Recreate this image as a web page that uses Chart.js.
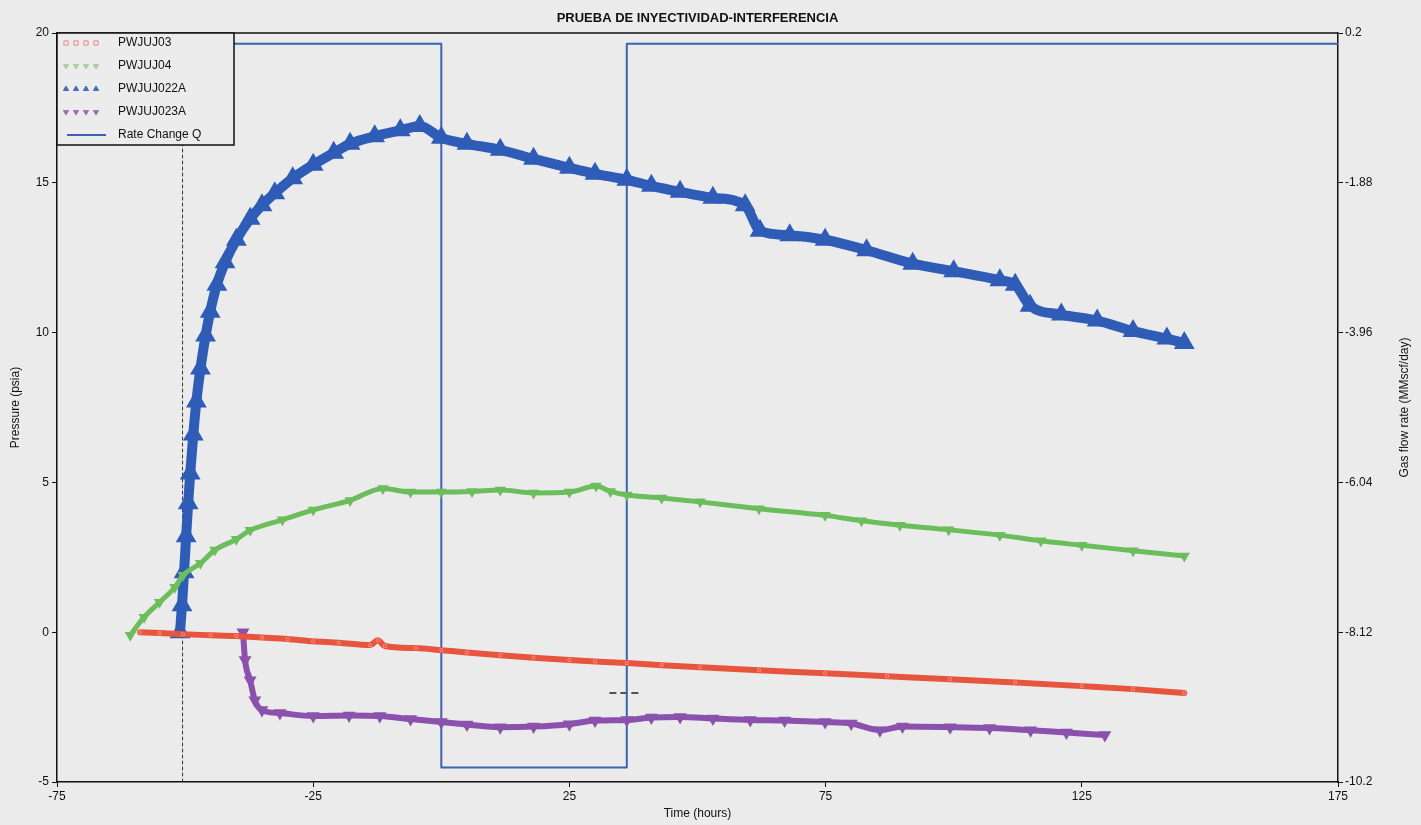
<!DOCTYPE html>
<html>
<head>
<meta charset="utf-8">
<script src="https://cdn.jsdelivr.net/npm/chart.js@4.4.1/dist/chart.umd.min.js"></script>
<style>
  html, body { margin: 0; padding: 0; background: #ebebeb; }
  #wrap { width: 1421px; height: 825px; position: relative; }
</style>
</head>
<body>
<div id="wrap"><canvas id="myChart" width="1421" height="825"></canvas></div>
<script>
// 시간 (hours) / 압력 (psia)
const TIME_03 = [-58.8, -55, -50.4, -45, -40, -35, -30, -25, -20, -13.9, -12.4, -11, -5, 0, 5, 11.5, 18, 25, 30, 36.2, 43, 50.5, 62, 74.9, 87, 99.3, 112, 125, 135, 145];
const PRES_03 = [0, -0.03, -0.07, -0.1, -0.13, -0.18, -0.23, -0.3, -0.35, -0.43, -0.27, -0.46, -0.53, -0.6, -0.68, -0.77, -0.85, -0.93, -0.98, -1.03, -1.1, -1.17, -1.27, -1.37, -1.47, -1.57, -1.68, -1.8, -1.9, -2.03];

const TIME_04 = [-60.7, -58, -55, -52, -50.4, -47, -44.2, -40, -37.3, -31, -25, -17.8, -11.4, -6, 0, 6, 11.5, 18, 25, 30.2, 33, 36.2, 43, 50.5, 62, 74.9, 82, 89.5, 99, 109, 117, 125, 135, 145];
const PRES_04 = [-0.1, 0.5, 1.0, 1.5, 1.9, 2.3, 2.74, 3.1, 3.4, 3.75, 4.08, 4.4, 4.8, 4.68, 4.68, 4.7, 4.75, 4.65, 4.68, 4.88, 4.7, 4.58, 4.48, 4.35, 4.12, 3.9, 3.72, 3.57, 3.42, 3.24, 3.05, 2.9, 2.72, 2.54];

const TIME_022A = [-51, -50.6, -50.2, -49.8, -49.4, -49, -48.4, -47.8, -47, -46, -45.1, -43.8, -42.2, -40, -37.3, -35, -32.5, -29, -25, -21, -17.8, -13, -8, -4.2, 0, 5, 11.5, 18, 25, 30, 36.2, 41, 46.6, 53, 59.3, 62.2, 68, 74.9, 83, 92, 100, 109, 112, 114.9, 121, 128, 135, 141.6, 145];
const PRES_022A = [0, 0.9, 2.0, 3.2, 4.3, 5.3, 6.6, 7.7, 8.8, 9.9, 10.7, 11.6, 12.35, 13.1, 13.8, 14.25, 14.65, 15.15, 15.6, 16.0, 16.3, 16.55, 16.75, 16.9, 16.5, 16.3, 16.1, 15.8, 15.5, 15.3, 15.1, 14.9, 14.7, 14.5, 14.25, 13.4, 13.25, 13.1, 12.75, 12.3, 12.05, 11.75, 11.6, 10.9, 10.6, 10.4, 10.05, 9.8, 9.65];

const TIME_023A = [-38.7, -38.3, -37.3, -36.4, -35, -31.5, -25, -18, -12, -6, 0, 5, 11.5, 18, 25, 30, 36.2, 41, 46.6, 53, 60.3, 67, 74.9, 80, 85.6, 90, 99.3, 107, 115, 122, 129.5];
const PRES_023A = [0, -0.93, -1.6, -2.27, -2.6, -2.7, -2.8, -2.78, -2.8, -2.9, -3.0, -3.08, -3.17, -3.15, -3.07, -2.95, -2.93, -2.85, -2.83, -2.88, -2.93, -2.95, -3.0, -3.05, -3.27, -3.15, -3.17, -3.2, -3.27, -3.35, -3.43];

// 유량 변화 (MMscf/day)
const TIME_Q = [-75, 0, 0, 36.2, 36.2, 175];
const RATE_Q = [0.05, 0.05, -10.0, -10.0, 0.05, 0.05];

// 기준선
const TIME_START = [-50.5, -50.5];
const PRES_START = [-5, 20];
const MARK_T = [32.9, 39.2];
const MARK_P = [-2.03, -2.03];

const X_TICKS = [-75, -25, 25, 75, 125, 175];
const P_TICKS = [-5, 0, 5, 10, 15, 20];
const Q_TICKS = [0.2, -1.88, -3.96, -6.04, -8.12, -10.2];

const FONT = "'Liberation Sans', Arial, sans-serif";

function zip(xs, ys) {
  return xs.map((x, i) => ({ x: x, y: ys[i] }));
}

const datasets = [
  {
    label: "PWJUJ03", data: zip(TIME_03, PRES_03), yAxisID: "y",
    borderColor: "#e8553f", borderWidth: 6, pointStyle: "rect", pointRadius: 2,
    pointBorderColor: "#f08a78", pointBackgroundColor: "#e8553f", pointBorderWidth: 1,
    legendPoint: { border: "#e58a80", fill: "rgba(0,0,0,0)" },
    showInLegend: true
  },
  {
    label: "PWJUJ04", data: zip(TIME_04, PRES_04), yAxisID: "y",
    borderColor: "#6cbd5c", borderWidth: 5, pointStyle: "triangle", pointRotation: 180, pointRadius: 1.5,
    pointBorderColor: "#6cbd5c", pointBackgroundColor: "#6cbd5c",
    legendPoint: { border: "#a8cf9c", fill: "#a8cf9c" },
    showInLegend: true
  },
  {
    label: "PWJUJ022A", data: zip(TIME_022A, PRES_022A), yAxisID: "y",
    borderColor: "#2f5cb6", borderWidth: 10, pointStyle: "triangle", pointRadius: 2,
    pointBorderColor: "#2f5cb6", pointBackgroundColor: "#2f5cb6",
    legendPoint: { border: "#4a6db8", fill: "#4a6db8" },
    showInLegend: true
  },
  {
    label: "PWJUJ023A", data: zip(TIME_023A, PRES_023A), yAxisID: "y",
    borderColor: "#8a52ad", borderWidth: 6, pointStyle: "triangle", pointRotation: 180, pointRadius: 1.5,
    pointBorderColor: "#8a52ad", pointBackgroundColor: "#8a52ad",
    legendPoint: { border: "#a070b8", fill: "#a070b8" },
    showInLegend: true
  },
  {
    label: "Rate Change Q", data: zip(TIME_Q, RATE_Q), yAxisID: "y1",
    borderColor: "#3a62b5", borderWidth: 2, pointRadius: 0,
    showInLegend: true
  },
  {
    label: "start", data: zip(TIME_START, PRES_START), yAxisID: "y",
    borderColor: "#333", borderWidth: 1, borderDash: [3, 3], pointRadius: 0
  },
  {
    label: "mark", data: zip(MARK_T, MARK_P), yAxisID: "y",
    borderColor: "#222", borderWidth: 1.5, borderDash: [6, 5], pointRadius: 0
  }
];
datasets.forEach(d => {
  d.showLine = true;
  d.fill = false;
  d.borderJoinStyle = "round";
  d.borderCapStyle = "round";
  if (d.showInLegend && d.pointRadius > 0) d.cubicInterpolationMode = "monotone";
});

// 제목, 테두리, 범례 그리기
const decor = {
  id: "decor",
  afterDatasetsDraw(chart) {
    const ctx = chart.ctx;
    const a = chart.chartArea;
    ctx.save();
    ctx.strokeStyle = "#111";
    ctx.lineWidth = 1.5;
    ctx.beginPath();
    ctx.moveTo(a.left, a.top);
    ctx.lineTo(a.right, a.top);
    ctx.stroke();

    // 범례
    const bx = a.left, by = a.top, bw = 177, bh = 112;
    ctx.fillStyle = "#ececec";
    ctx.fillRect(bx, by, bw, bh);
    ctx.strokeStyle = "#111";
    ctx.lineWidth = 1.5;
    ctx.strokeRect(bx, by, bw, bh);
    ctx.font = "12px " + FONT;
    ctx.textBaseline = "middle";
    const items = chart.data.datasets.filter(d => d.showInLegend);
    items.forEach((d, i) => {
      const y = by + 10 + i * 23;
      if (d.legendPoint) {
        for (let k = 0; k < 4; k++) {
          ctx.fillStyle = d.legendPoint.fill;
          ctx.strokeStyle = d.legendPoint.border;
          ctx.lineWidth = 1;
          Chart.helpers.drawPoint(ctx, {
            pointStyle: d.pointStyle, rotation: d.pointRotation || 0, radius: 3, borderWidth: 1
          }, bx + 9 + k * 10, y);
        }
      } else {
        ctx.strokeStyle = d.borderColor;
        ctx.lineWidth = 2;
        ctx.beginPath();
        ctx.moveTo(bx + 10, y);
        ctx.lineTo(bx + 49, y);
        ctx.stroke();
      }
      ctx.fillStyle = "#111";
      ctx.textAlign = "left";
      ctx.fillText(d.label, bx + 61, y);
    });

    // 제목
    ctx.font = "bold 13px " + FONT;
    ctx.textAlign = "center";
    ctx.fillStyle = "#111";
    ctx.fillText("PRUEBA DE INYECTIVIDAD-INTERFERENCIA", (a.left + a.right) / 2, 18);

    // 오른쪽 축 제목
    ctx.font = "12px " + FONT;
    ctx.translate(1405, (a.top + a.bottom) / 2);
    ctx.rotate(-Math.PI / 2);
    ctx.fillText("Gas flow rate (MMscf/day)", 0, 0);
    ctx.restore();
  }
};

const tickFont = { family: FONT, size: 12 };

const config = {
  type: "scatter",
  data: { datasets: datasets },
  plugins: [decor],
  options: {
    responsive: false,
    animation: false,
    layout: { padding: { top: 33, left: 0, right: 0, bottom: 0 } },
    plugins: { legend: { display: false }, tooltip: { enabled: false }, title: { display: false } },
    scales: {
      x: {
        type: "linear", min: -75, max: 175,
        afterBuildTicks: s => { s.ticks = X_TICKS.map(v => ({ value: v })); },
        afterFit: s => { s.height = 43; },
        ticks: { font: tickFont, color: "#111", padding: 2, maxRotation: 0 },
        grid: { drawOnChartArea: false, tickLength: 5, color: "#111" },
        border: { display: true, color: "#111", width: 1.5 },
        title: { display: true, text: "Time (hours)", font: tickFont, color: "#111", padding: { top: 0, bottom: 4 } }
      },
      y: {
        type: "linear", position: "left", min: -5, max: 20,
        afterBuildTicks: s => { s.ticks = P_TICKS.map(v => ({ value: v })); },
        afterFit: s => { s.width = 57; },
        ticks: { font: tickFont, color: "#111", padding: 3 },
        grid: { drawOnChartArea: false, tickLength: 5, color: "#111" },
        border: { display: true, color: "#111", width: 1.5 },
        title: { display: true, text: "Pressure (psia)", font: tickFont, color: "#111", padding: { top: 8, bottom: 0 } }
      },
      y1: {
        type: "linear", position: "right", min: -10.2, max: 0.2,
        afterBuildTicks: s => { s.ticks = Q_TICKS.map(v => ({ value: v })); },
        afterFit: s => { s.width = 83; },
        ticks: { font: tickFont, color: "#111", padding: 2, callback: v => String(v) },
        grid: { drawOnChartArea: false, tickLength: 5, color: "#111" },
        border: { display: true, color: "#111", width: 1.5 }
      }
    }
  }
};

const myChart = new Chart(document.getElementById("myChart"), config);
</script>
</body>
</html>
